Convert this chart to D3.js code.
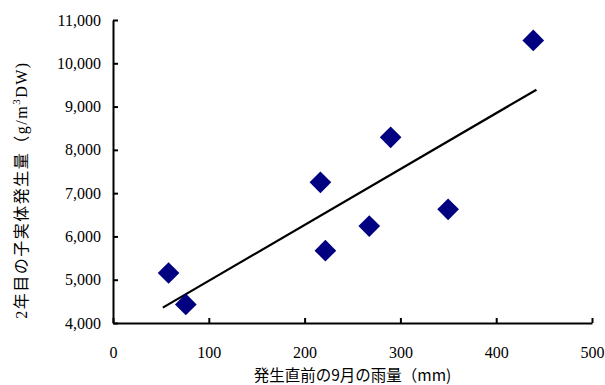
<!DOCTYPE html>
<html><head><meta charset="utf-8">
<script src="https://cdn.jsdelivr.net/npm/d3@7"></script>
<style>body{margin:0;background:#fff}svg{display:block}</style>
</head><body>
<svg id="c" width="605" height="385"></svg>
<script>
const rainfall = [58, 76, 216.5, 221.7, 267.5, 289.8, 349.8, 438.7];
const yieldVals = [5155, 4430, 7250, 5672, 6240, 8289, 6626, 10529];
const trendX = [52, 442];
const trendY = [4355, 9390];
const xTicks = [0, 100, 200, 300, 400, 500];
const yTicks = [4000, 5000, 6000, 7000, 8000, 9000, 10000, 11000];
const xTitle = "発生直前の9月の雨量（mm)";
const yTitleA = "2年目の子実体発生量（g/m";
const yTitleSup = "3";
const yTitleB = "DW)";

const svg = d3.select("#c");
const L = 113, R = 592, T = 20, B = 323;
const x = d3.scaleLinear().domain([0, 500]).range([L, R]);
const y = d3.scaleLinear().domain([4000, 11000]).range([B, T]);
const serif = "'Liberation Serif','Times New Roman',serif";

const xAxis = svg.append("g").attr("transform", `translate(0,${B})`)
  .call(d3.axisBottom(x).tickValues(xTicks).tickSizeInner(-5).tickSizeOuter(0).tickPadding(0).tickFormat(d3.format("d")));
const yAxis = svg.append("g").attr("transform", `translate(${L},0)`)
  .call(d3.axisLeft(y).tickValues(yTicks).tickSizeInner(-5).tickSizeOuter(0).tickPadding(12).tickFormat(d3.format(",")));
[xAxis, yAxis].forEach(g => {
  g.select(".domain").attr("stroke", "#000").attr("stroke-width", 2);
  g.selectAll(".tick line").attr("stroke", "#000").attr("stroke-width", 2);
  g.selectAll(".tick text").attr("font-family", serif).attr("font-size", 16).attr("fill", "#000");
});
xAxis.selectAll(".tick text").attr("y", 35).attr("dy", 0);
yAxis.selectAll(".tick text").attr("x", -12);

// trend line
svg.append("line")
  .attr("x1", x(trendX[0])).attr("y1", y(trendY[0]))
  .attr("x2", x(trendX[1])).attr("y2", y(trendY[1]))
  .attr("stroke", "#000").attr("stroke-width", 2.2);

// diamonds
const sym = d3.symbol().type(d3.symbolSquare).size(235);
svg.append("g").selectAll("path").data(rainfall.map((r, i) => [r, yieldVals[i]]))
  .join("path")
  .attr("d", sym)
  .attr("transform", d => `translate(${x(d[0])},${y(d[1])}) rotate(45)`)
  .attr("fill", "#000080");

// x title
svg.append("text").attr("x", (L + R) / 2).attr("y", 381)
  .attr("text-anchor", "middle").attr("font-family", "'Noto Sans CJK JP',sans-serif")
  .attr("font-size", 15.5).attr("fill", "#000").text(xTitle);

// y title
const yt = svg.append("text").attr("transform", "translate(27,190) rotate(-90)")
  .attr("text-anchor", "middle").attr("font-family", "'Liberation Serif','Noto Sans CJK JP',serif")
  .attr("font-size", 16).attr("letter-spacing", 1.5).attr("fill", "#000");
yt.append("tspan").text(yTitleA);
yt.append("tspan").attr("dy", -7).attr("font-size", 11).text(yTitleSup);
yt.append("tspan").attr("dy", 7).text(yTitleB);
</script>
</body></html>
